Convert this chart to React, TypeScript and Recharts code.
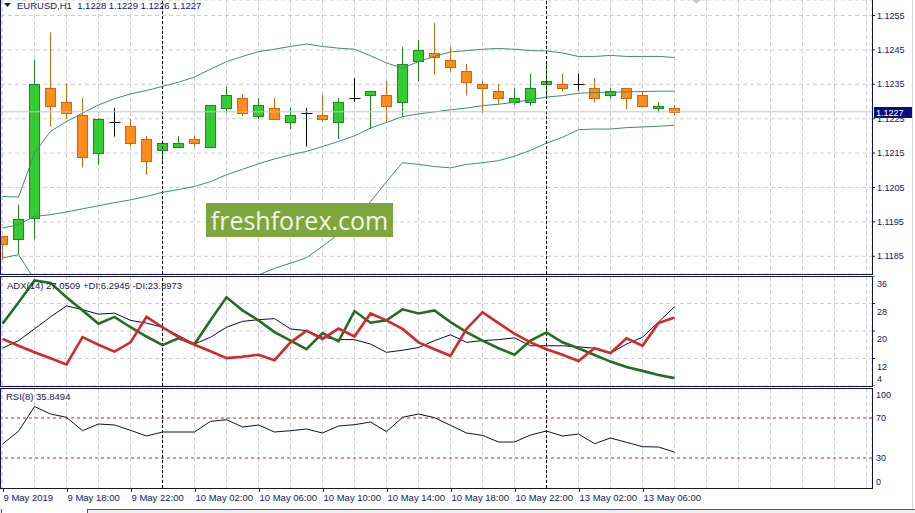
import React from 'react';
import { ComposedChart, LineChart, Line, Bar, XAxis, YAxis, CartesianGrid, ReferenceLine } from 'recharts';

// ---------- DATA ----------
const SYMBOL = 'EURUSD,H1';
const ADX_PERIOD = 14;
const RSI_PERIOD = 8;

const OPEN = [1.1191, 1.119, 1.1196, 1.12339, 1.12298, 1.1226, 1.12149, 1.12239, 1.12229, 1.12192, 1.12159, 1.12168, 1.12192, 1.12169, 1.1228, 1.1231, 1.12259, 1.12281, 1.1224, 1.12268, 1.1226, 1.12239, 1.12309, 1.12319, 1.12319, 1.12298, 1.12419, 1.12442, 1.1242, 1.12389, 1.12351, 1.12331, 1.12298, 1.12298, 1.12351, 1.12351, 1.12351, 1.12339, 1.12319, 1.12339, 1.12319, 1.1228, 1.1228];
const HIGH = [1.1191, 1.12, 1.12421, 1.12501, 1.12353, 1.1231, 1.12252, 1.12281, 1.12249, 1.122, 1.1218, 1.122, 1.122, 1.1229, 1.12341, 1.12322, 1.1231, 1.1231, 1.12281, 1.12281, 1.12319, 1.1231, 1.12368, 1.12331, 1.1236, 1.12458, 1.12479, 1.12528, 1.1246, 1.12409, 1.1236, 1.12351, 1.12339, 1.12381, 1.12412, 1.12381, 1.12381, 1.12368, 1.12339, 1.12339, 1.12329, 1.12298, 1.1229];
const LOW = [1.1184, 1.11857, 1.119, 1.12227, 1.12249, 1.12108, 1.12116, 1.12198, 1.12169, 1.12087, 1.12126, 1.12168, 1.12168, 1.12169, 1.12268, 1.12258, 1.12249, 1.12247, 1.1222, 1.12169, 1.12242, 1.12191, 1.12299, 1.1222, 1.12239, 1.12256, 1.12358, 1.12378, 1.12387, 1.12317, 1.12266, 1.1229, 1.1229, 1.12288, 1.12315, 1.12329, 1.12331, 1.12297, 1.12309, 1.12278, 1.12288, 1.12268, 1.1226];
const CLOSE = [1.11886, 1.11958, 1.12351, 1.12288, 1.12268, 1.12138, 1.1225, 1.12239, 1.12178, 1.12128, 1.12179, 1.12178, 1.12178, 1.1229, 1.12319, 1.12268, 1.1229, 1.12249, 1.1226, 1.12268, 1.12249, 1.12298, 1.12309, 1.12331, 1.12288, 1.1241, 1.12449, 1.12429, 1.12399, 1.12358, 1.12338, 1.12309, 1.1231, 1.12339, 1.1236, 1.12338, 1.12351, 1.12309, 1.1233, 1.12309, 1.12288, 1.12288, 1.1227];

const BB_UPPER = [1.12024, 1.12022, 1.1215, 1.12213, 1.12242, 1.12266, 1.1229, 1.12308, 1.12322, 1.12332, 1.12344, 1.12356, 1.12371, 1.12394, 1.12416, 1.12431, 1.12445, 1.12452, 1.1246, 1.12467, 1.1246, 1.12455, 1.12452, 1.12433, 1.12412, 1.12397, 1.12416, 1.12431, 1.12444, 1.12448, 1.12452, 1.12454, 1.12452, 1.12448, 1.12447, 1.12441, 1.12431, 1.12431, 1.12434, 1.12431, 1.12431, 1.12431, 1.12428];
const BB_MIDDLE = [1.11932, 1.11942, 1.11966, 1.11971, 1.11979, 1.11988, 1.11997, 1.12006, 1.12014, 1.12024, 1.12036, 1.12044, 1.12053, 1.12067, 1.12087, 1.12103, 1.12119, 1.12133, 1.12145, 1.12155, 1.12169, 1.12184, 1.122, 1.12223, 1.12239, 1.12256, 1.12264, 1.1227, 1.12276, 1.12281, 1.12288, 1.12292, 1.12298, 1.12305, 1.12313, 1.12317, 1.12324, 1.12326, 1.12327, 1.12328, 1.12329, 1.1233, 1.1233];
const BB_LOWER = [1.11845, 1.11855, 1.11782, 1.11729, 1.11716, 1.1171, 1.11704, 1.11704, 1.11706, 1.11716, 1.11728, 1.11732, 1.11735, 1.1174, 1.11755, 1.11775, 1.11796, 1.11815, 1.1183, 1.11846, 1.11879, 1.11915, 1.11952, 1.12009, 1.12067, 1.12122, 1.12117, 1.12111, 1.12107, 1.12117, 1.12122, 1.12128, 1.12141, 1.12158, 1.12179, 1.12196, 1.12218, 1.1222, 1.1222, 1.12224, 1.12226, 1.12228, 1.12231];

const ADX = [15.0, 17.2, 20.6, 24.1, 27.3, 26.2, 24.9, 25.2, 23.1, 22.3, 21.1, 18.7, 16.2, 18.2, 21.1, 22.8, 23.3, 23.6, 20.6, 20.1, 18.2, 17.5, 17.5, 16.2, 13.8, 14.4, 15.2, 17.2, 18.9, 16.7, 17.2, 17.5, 18.0, 15.7, 15.7, 15.7, 15.4, 15.0, 13.5, 16.2, 18.2, 22.6, 27.0509];
const PLUS_DI = [22.1, 28.3, 34.7, 34.0, 29.8, 26.0, 22.1, 24.1, 21.1, 18.4, 15.9, 17.9, 16.2, 23.1, 29.8, 26.0, 23.1, 19.7, 17.2, 14.7, 19.4, 17.0, 25.8, 22.4, 23.1, 26.3, 25.1, 26.0, 22.6, 19.7, 17.2, 15.0, 13.1, 17.2, 19.6, 16.7, 15.0, 13.0, 11.1, 9.5, 8.4, 7.2, 6.2945];
const MINUS_DI = [17.7, 15.7, 13.8, 12.1, 10.3, 18.2, 16.0, 14.0, 16.7, 24.1, 21.1, 18.2, 16.0, 14.1, 12.1, 12.5, 13.1, 11.5, 16.7, 20.1, 17.7, 20.7, 18.4, 25.1, 23.1, 20.6, 16.7, 14.7, 12.8, 20.6, 25.5, 22.3, 19.2, 16.7, 14.7, 13.1, 11.3, 15.0, 13.6, 17.9, 15.7, 22.3, 23.8973];

const RSI = [44, 56.7, 81.4, 74, 70.7, 57.3, 64, 63, 57.7, 52, 56, 56, 56, 66.7, 68.3, 61, 63, 56, 57.3, 59, 55, 62, 63.3, 66, 56.3, 70.7, 74, 70.3, 62.7, 55, 52.7, 46, 46, 53, 57, 52, 54, 44.3, 50, 45.7, 41.3, 41, 35.8494];

const PRICE_TICKS = [1.1185, 1.1195, 1.1205, 1.1215, 1.1225, 1.1235, 1.1245, 1.1255];
const ADX_TICKS = [4, 12, 20, 28, 36];
const RSI_TICKS = [0, 30, 70, 100];
const RSI_LEVELS = [70, 30];
const DAY_SEPARATORS = [10, 34];
const TIME_LABEL_INDEX = [0, 4, 8, 12, 16, 20, 24, 28, 32, 36, 40];
const TIME_LABELS = ['9 May 2019', '9 May 18:00', '9 May 22:00', '10 May 02:00', '10 May 06:00', '10 May 10:00', '10 May 14:00', '10 May 18:00', '10 May 22:00', '13 May 02:00', '13 May 06:00'];

// ---------- layout / style ----------
const FONT = '"Liberation Sans", Arial, sans-serif';
const NAVY = '#16165e';
const FRAME = '#12125a';
const GRID = '#cfcfcf';
const X_DOMAIN: [number, number] = [-0.09375, 54.34375];
const PRICE_DOMAIN: [number, number] = [1.1179855, 1.1259506];
const GRID_X = Array.from({ length: 28 }, (_, k) => k * 2);

const priceData = OPEN.map((o, i) => ({
  i,
  open: o,
  high: HIGH[i],
  low: LOW[i],
  close: CLOSE[i],
  range: [LOW[i], HIGH[i]],
  upper: BB_UPPER[i],
  middle: BB_MIDDLE[i],
  lower: BB_LOWER[i],
}));

const indData = ADX.map((a, i) => ({ i, adx: a, pdi: PLUS_DI[i], mdi: MINUS_DI[i], rsi: RSI[i] }));

const LAST = priceData.length - 1;

const Candle = (props: any) => {
  const { x, y, width, height, payload } = props;
  if (x == null || y == null || !payload) return null;
  const { open, close, high, low } = payload;
  const k = height / (high - low);
  const py = (v: number) => y + (high - v) * k;
  const cx = Math.round(x + width / 2 + 0.5) - 0.5;
  const yHigh = py(high);
  const yLow = py(low);
  if (open === close) {
    const yy = Math.round(py(open)) + 0.5;
    return (
      <g>
        <line x1={cx} x2={cx} y1={yHigh} y2={yLow} stroke="#000" strokeWidth={1} />
        <line x1={cx - 5} x2={cx + 6} y1={yy} y2={yy} stroke="#000" strokeWidth={1} />
      </g>
    );
  }
  const bull = close > open;
  const fill = bull ? '#33cc33' : '#ff8c1a';
  const stroke = bull ? '#1f8a1f' : '#cc6814';
  const top = Math.round(py(Math.max(open, close))) + 0.5;
  const bot = Math.round(py(Math.min(open, close))) + 0.5;
  return (
    <g>
      <line x1={cx} x2={cx} y1={yHigh} y2={yLow} stroke={stroke} strokeWidth={1} />
      <rect x={cx - 5} y={top} width={10} height={Math.max(bot - top, 1)} fill={fill} stroke={stroke} strokeWidth={1} />
    </g>
  );
};

const PriceTag = (props: any) => {
  const vb = props.viewBox || {};
  const xr = (vb.x || 0) + (vb.width || 0);
  const yy = Math.round(vb.y || 0);
  return (
    <g>
      <rect x={xr + 2} y={yy - 5} width={38} height={11} fill="#0c0c78" />
      <text x={xr + 4} y={yy + 0.5} fill="#ffffff" fontSize={9} fontFamily={FONT} dominantBaseline="central">
        {CLOSE[LAST].toFixed(4)}
      </text>
    </g>
  );
};

const AdxTick = (props: any) => {
  const { x, y, payload } = props;
  const v = payload.value;
  const dy = v === ADX_TICKS[0] ? -7.5 : 8;
  return (
    <text x={x} y={y + dy} fill={NAVY} fontSize={9} fontFamily={FONT} dominantBaseline="central" textAnchor="start">
      {v}
    </text>
  );
};

const RsiTick = (props: any) => {
  const { x, y, payload } = props;
  const v = payload.value;
  const dy = v === RSI_TICKS[0] ? -6.5 : v === RSI_TICKS[RSI_TICKS.length - 1] ? 6.5 : 0;
  return (
    <text x={x} y={y + dy} fill={NAVY} fontSize={9} fontFamily={FONT} dominantBaseline="central" textAnchor="start">
      {v}
    </text>
  );
};

const TimeTick = (props: any) => {
  const { x, y, payload } = props;
  const idx = TIME_LABEL_INDEX.indexOf(payload.value);
  if (idx < 0) return null;
  const px = Math.round(x) + 0.5;
  return (
    <g>
      <line x1={px} x2={px} y1={y + 1} y2={y + 4} stroke={NAVY} strokeWidth={1} />
      <text x={px} y={y + 9.5} fill={NAVY} fontSize={9.5} fontFamily={FONT} dominantBaseline="central" textAnchor="start">
        {TIME_LABELS[idx]}
      </text>
    </g>
  );
};

const separators = (prefix: string) =>
  DAY_SEPARATORS.map((d) => (
    <ReferenceLine key={prefix + d} x={d} stroke="#000000" strokeDasharray="3 2" strokeWidth={1} />
  ));

const frameStyle = (top: number, height: number): React.CSSProperties => ({
  position: 'absolute',
  left: 0,
  top,
  width: 871,
  height,
  border: `1px solid ${FRAME}`,
  pointerEvents: 'none',
});

const textStyle = (left: number, top: number, size: number): React.CSSProperties => ({
  position: 'absolute',
  left,
  top,
  fontFamily: FONT,
  fontSize: size,
  lineHeight: '11px',
  color: NAVY,
  whiteSpace: 'pre',
});

export default function App() {
  const last = priceData[LAST];
  const titleMain = `${SYMBOL}  ${last.open.toFixed(4)} ${last.high.toFixed(4)} ${last.low.toFixed(4)} ${last.close.toFixed(4)}`;
  const titleAdx = `ADX(${ADX_PERIOD}) ${ADX[LAST].toFixed(4)} +DI:${PLUS_DI[LAST].toFixed(4)} -DI:${MINUS_DI[LAST].toFixed(4)}`;
  const titleRsi = `RSI(${RSI_PERIOD}) ${RSI[LAST].toFixed(4)}`;

  return (
    <div style={{ position: 'fixed', left: 0, top: 0, width: 915, height: 513, background: '#ffffff', overflow: 'hidden' }}>
      {/* main price pane */}
      <div style={{ position: 'absolute', left: 0, top: 0 }}>
        <ComposedChart width={915} height={274} data={priceData} margin={{ top: 0, right: 0, bottom: 0, left: 1 }}>
          <CartesianGrid stroke={GRID} strokeDasharray="4 3" />
          <XAxis dataKey="i" type="number" domain={X_DOMAIN} ticks={GRID_X} allowDataOverflow hide interval={0} />
          <YAxis
            orientation="right"
            width={43}
            type="number"
            domain={PRICE_DOMAIN}
            ticks={PRICE_TICKS}
            allowDataOverflow
            interval={0}
            tickFormatter={(v: number) => v.toFixed(4)}
            tick={{ fontSize: 9, fill: NAVY, fontFamily: FONT }}
            tickSize={3}
            tickMargin={2}
            axisLine={false}
            tickLine={{ stroke: NAVY }}
          />
          {separators('m')}
          <Line dataKey="upper" stroke="#3c8f6a" strokeWidth={1} dot={false} activeDot={false} isAnimationActive={false} />
          <Line dataKey="middle" stroke="#3c8f6a" strokeWidth={1} dot={false} activeDot={false} isAnimationActive={false} />
          <Line dataKey="lower" stroke="#3c8f6a" strokeWidth={1} dot={false} activeDot={false} isAnimationActive={false} />
          <ReferenceLine y={CLOSE[LAST]} stroke="#c4c4c4" strokeWidth={1} label={<PriceTag />} />
          <Bar dataKey="range" barSize={11} shape={<Candle />} isAnimationActive={false} />
        </ComposedChart>
      </div>

      {/* ADX pane */}
      <div style={{ position: 'absolute', left: 0, top: 276 }}>
        <LineChart width={915} height={110} data={indData} margin={{ top: 0, right: 0, bottom: 0, left: 1 }}>
          <CartesianGrid stroke={GRID} strokeDasharray="4 3" />
          <XAxis dataKey="i" type="number" domain={X_DOMAIN} ticks={GRID_X} allowDataOverflow hide interval={0} />
          <YAxis
            orientation="right"
            width={43}
            type="number"
            domain={[4, 36]}
            ticks={ADX_TICKS}
            allowDataOverflow
            interval={0}
            tick={<AdxTick />}
            tickSize={3}
            tickMargin={2}
            axisLine={false}
            tickLine={{ stroke: NAVY }}
          />
          {separators('a')}
          <Line dataKey="adx" stroke="#0a0a3c" strokeWidth={1} dot={false} activeDot={false} isAnimationActive={false} />
          <Line dataKey="pdi" stroke="#256c25" strokeWidth={2.6} dot={false} activeDot={false} isAnimationActive={false} />
          <Line dataKey="mdi" stroke="#d02a2a" strokeWidth={2.6} dot={false} activeDot={false} isAnimationActive={false} />
        </LineChart>
      </div>

      {/* RSI pane + time axis */}
      <div style={{ position: 'absolute', left: 0, top: 388 }}>
        <LineChart width={915} height={120} data={indData} margin={{ top: 0, right: 0, bottom: 0, left: 1 }}>
          <CartesianGrid stroke={GRID} strokeDasharray="4 3" horizontal={false} />
          <XAxis
            dataKey="i"
            type="number"
            domain={X_DOMAIN}
            ticks={GRID_X}
            allowDataOverflow
            interval={0}
            height={20}
            tickSize={0}
            tickMargin={0}
            axisLine={false}
            tickLine={false}
            tick={<TimeTick />}
          />
          <YAxis
            orientation="right"
            width={43}
            type="number"
            domain={[0, 100]}
            ticks={RSI_TICKS}
            allowDataOverflow
            interval={0}
            tick={<RsiTick />}
            tickSize={3}
            tickMargin={1}
            axisLine={false}
            tickLine={false}
          />
          {separators('r')}
          {RSI_LEVELS.map((lv) => (
            <ReferenceLine key={'lv' + lv} y={lv} stroke="#b42a2a" strokeDasharray="3 3" strokeWidth={1} />
          ))}
          <Line dataKey="rsi" stroke="#10102e" strokeWidth={1} dot={false} activeDot={false} isAnimationActive={false} />
        </LineChart>
      </div>

      {/* pane frames */}
      <div style={frameStyle(-1, 274)} />
      <div style={frameStyle(276, 109)} />
      <div style={frameStyle(388, 99)} />

      {/* titles */}
      <svg style={{ position: 'absolute', left: 4, top: 3 }} width={8} height={5}>
        <polygon points="0,0 7,0 3.5,4" fill={NAVY} />
      </svg>
      <div style={textStyle(17, 0, 9.5)}>{titleMain}</div>
      <div style={textStyle(7, 280, 9.5)}>{titleAdx}</div>
      <div style={textStyle(6, 391, 9.5)}>{titleRsi}</div>

      {/* chart shift marker */}
      <svg style={{ position: 'absolute', left: 692, top: 0 }} width={10} height={4}>
        <polygon points="0,0 9,0 4.5,3.5" fill="#c8c8c8" />
      </svg>

      {/* watermark */}
      <div
        style={{
          position: 'absolute',
          left: 206,
          top: 203,
          width: 187,
          height: 34,
          background: '#7ea63e',
          color: '#f2f7e4',
          fontFamily: '"Open Sans", sans-serif',
          fontSize: 25,
          lineHeight: '34px',
          textAlign: 'center',
        }}
      >
        freshforex.com
      </div>

      {/* window edges / tab bar */}
      <div style={{ position: 'absolute', left: 912, top: 0, width: 1, height: 509, background: '#d6d6d6' }} />
      <div style={{ position: 'absolute', left: 0, top: 509, width: 915, height: 4, background: '#efefef' }} />
      <div style={{ position: 'absolute', left: 86, top: 509, width: 829, height: 1, background: '#5a5a5a' }} />
      <div style={{ position: 'absolute', left: 1, top: 509, width: 85, height: 4, background: '#ffffff', borderLeft: '1px solid #5a5a5a', borderRight: '1px solid #5a5a5a' }} />
    </div>
  );
}
